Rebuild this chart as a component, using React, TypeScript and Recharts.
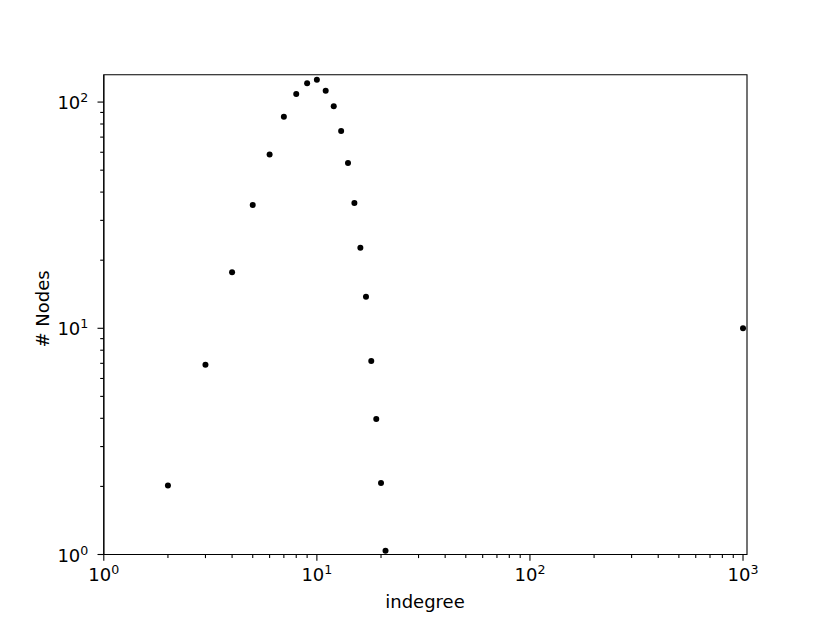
import { ReferenceArea, Scatter, ScatterChart, XAxis, YAxis } from "recharts";

// in-degree values and number of nodes having that in-degree
const indegree = [2, 3, 4, 5, 6, 7, 8, 9, 10, 11, 12, 13, 14, 15, 16, 17, 18, 19, 20, 21, 1000];
const nodeCounts = [
  2.02, 6.9, 17.7, 35.1, 58.6, 86.2, 108.7, 121, 125.5, 112.3, 95.8, 74.5, 53.8, 35.8, 22.7, 13.8, 7.17, 3.97,
  2.07, 1.04, 10,
];

const xMajor = [1, 10, 100, 1000];
const xMinor = [2, 3, 4, 5, 6, 7, 8, 9, 20, 30, 40, 50, 60, 70, 80, 90, 200, 300, 400, 500, 600, 700, 800, 900];
const yMajor = [1, 10, 100];
const yMinor = [2, 3, 4, 5, 6, 7, 8, 9, 20, 30, 40, 50, 60, 70, 80, 90];

const xDomain = [1, 1044];
const yDomain = [1, 132];

const data = indegree.map((x, i) => ({ x, y: nodeCounts[i] }));

const FONT = "DejaVu Sans, sans-serif";
const MAJOR = 6.3;
const MINOR = 3.6;

function exponent(v: number) {
  return String(Math.round(Math.log10(v)));
}

function XTick({ x, y, payload }: any) {
  const v = payload.value;
  const major = xMajor.includes(v);
  return (
    <g>
      <line x1={x} x2={x} y1={y} y2={y + (major ? MAJOR : MINOR)} stroke="#000" strokeWidth={1.1} />
      {major && (
        <text x={x} y={y + 26.5} textAnchor="middle" fontFamily={FONT} fontSize={18} fill="#000">
          <tspan>10</tspan>
          <tspan dy={-7} fontSize={12.6}>
            {exponent(v)}
          </tspan>
        </text>
      )}
    </g>
  );
}

function YTick({ x, y, payload }: any) {
  const v = payload.value;
  const major = yMajor.includes(v);
  return (
    <g>
      <line x1={x} x2={x - (major ? MAJOR : MINOR)} y1={y} y2={y} stroke="#000" strokeWidth={1.1} />
      {major && (
        <text x={x - 15.5} y={y + 7} textAnchor="end" fontFamily={FONT} fontSize={18} fill="#000">
          <tspan>10</tspan>
          <tspan dy={-7} fontSize={12.6}>
            {exponent(v)}
          </tspan>
        </text>
      )}
    </g>
  );
}

function Dot({ cx, cy }: any) {
  return <circle cx={cx} cy={cy} r={3} fill="#000" />;
}

export default function App() {
  return (
    <div style={{ position: "absolute", left: 0, top: 0, width: 830, height: 623, background: "#fff" }}>
      <ScatterChart width={830} height={623} margin={{ top: 74.8, right: 83, bottom: 38.5, left: 43.8 }}>
        <XAxis
          type="number"
          dataKey="x"
          scale="log"
          domain={xDomain}
          allowDataOverflow
          ticks={[...xMajor, ...xMinor]}
          interval={0}
          height={30}
          tickSize={0}
          tickMargin={0}
          tickLine={false}
          axisLine={{ stroke: "#000", strokeWidth: 1.1 }}
          tick={<XTick />}
        />
        <YAxis
          type="number"
          dataKey="y"
          scale="log"
          domain={yDomain}
          allowDataOverflow
          ticks={[...yMajor, ...yMinor]}
          interval={0}
          width={60}
          tickSize={0}
          tickMargin={0}
          tickLine={false}
          axisLine={{ stroke: "#000", strokeWidth: 1.1 }}
          tick={<YTick />}
        />
        <ReferenceArea
          x1={xDomain[0]}
          x2={xDomain[1]}
          y1={yDomain[0]}
          y2={yDomain[1]}
          fill="none"
          stroke="#000"
          strokeWidth={1.1}
        />
        <Scatter data={data} shape={<Dot />} isAnimationActive={false} />
      </ScatterChart>
      <svg
        width={830}
        height={623}
        style={{ position: "absolute", left: 0, top: 0, pointerEvents: "none" }}
      >
        <text x={425} y={607.5} textAnchor="middle" fontFamily={FONT} fontSize={18} fill="#000">
          indegree
        </text>
        <text
          x={0}
          y={0}
          transform="translate(49 309) rotate(-90)"
          textAnchor="middle"
          fontFamily={FONT}
          fontSize={18}
          fill="#000"
        >
          # Nodes
        </text>
      </svg>
    </div>
  );
}
